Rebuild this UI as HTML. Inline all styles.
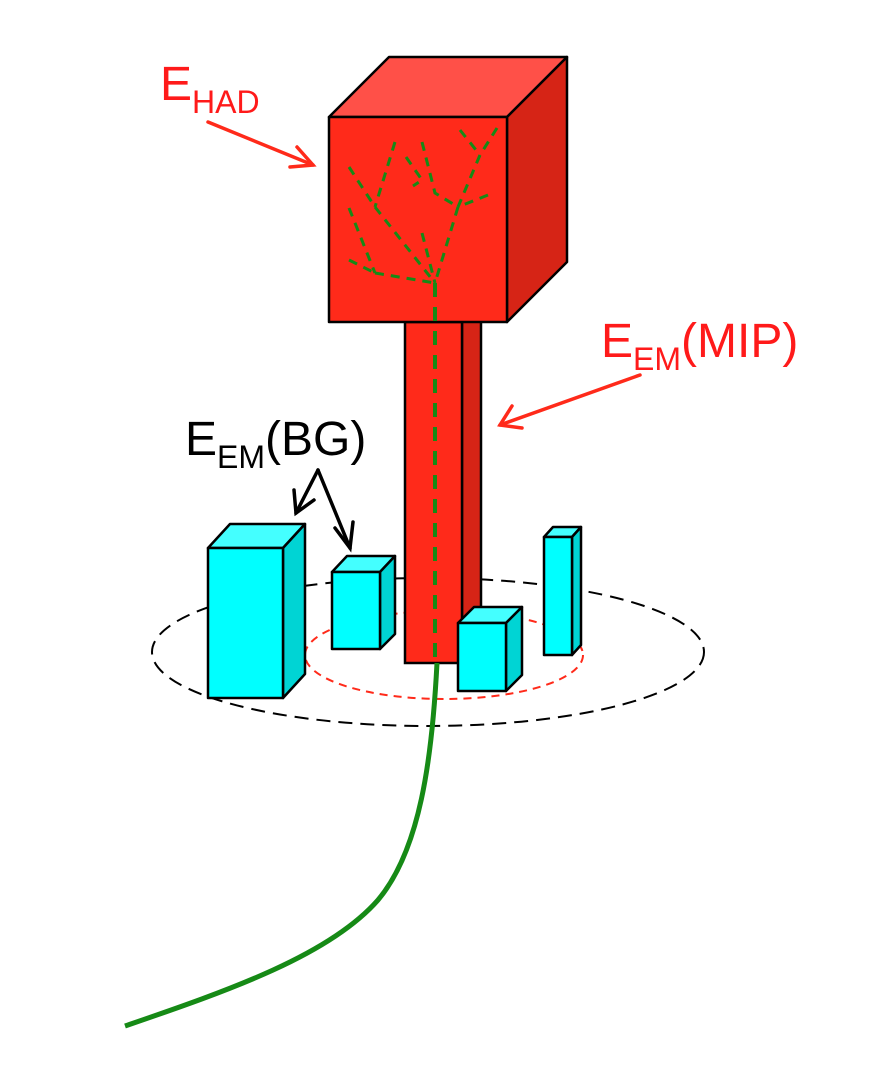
<!DOCTYPE html>
<html><head><meta charset="utf-8"><style>
html,body{margin:0;padding:0;background:#fff;}
svg{display:block;}
text{font-family:"Liberation Sans","DejaVu Sans",sans-serif;}
</style></head><body>
<svg width="870" height="1074" viewBox="0 0 870 1074" xmlns="http://www.w3.org/2000/svg">
<!-- black isolation ellipse -->
<ellipse cx="428" cy="652" rx="276" ry="74" fill="none" stroke="#000" stroke-width="2" stroke-dasharray="14,8"/>
<ellipse cx="444" cy="655" rx="139" ry="44" fill="none" stroke="#ff2a1a" stroke-width="2" stroke-dasharray="8,6"/>

<!-- column -->
<g stroke="#000" stroke-width="2.5">
<polygon points="462,322 481,310 481,645 462,663" fill="#d62416"/>
<rect x="405" y="322" width="57" height="341" fill="#ff2a1a"/>
</g>

<!-- cube -->
<g stroke="#000" stroke-width="2.5" stroke-linejoin="round">
<polygon points="329,117 389,57 567,57 507,117" fill="#ff5048"/>
<polygon points="507,117 567,57 567,262 507,322" fill="#d62416"/>
<rect x="329" y="117" width="178" height="205" fill="#ff2a1a"/>
</g>

<!-- shower tree -->
<g stroke="#168a16" stroke-width="3" stroke-dasharray="9,7" fill="none">
<path d="M395,142 L375,207"/>
<path d="M349,167 L375,207"/>
<path d="M375,207 L435,283"/>
<path d="M349,208 L375,273"/>
<path d="M349,260 L375,273"/>
<path d="M375,273 L435,283"/>
<path d="M422,233 L435,283"/>
<path d="M458,207 L435,283"/>
<path d="M422,142 L435,193 L458,207"/>
<path d="M406,157 L422,180 L413,186"/>
<path d="M488,195 L458,207"/>
<path d="M480,155 L458,207"/>
<path d="M460,130 L480,155"/>
<path d="M497,128 L480,155"/>
</g>
<path d="M435,283 L435,663" stroke="#168a16" stroke-width="4" stroke-dasharray="14,10" fill="none"/>
<path d="M437,663 C432,760 420,850 378,900 C330,955 230,990 125,1026" stroke="#168a16" stroke-width="5" fill="none"/>

<!-- cyan boxes -->
<g stroke="#000" stroke-width="2.5" stroke-linejoin="round">
<g>
<polygon points="208,548 230,524 305,524 283,548" fill="#44ffff"/>
<polygon points="283,548 305,524 305,674 283,698" fill="#00d4d4"/>
<rect x="208" y="548" width="75" height="150" fill="#00ffff"/>
</g>
<g>
<polygon points="332,572 347,556 395,556 380,572" fill="#44ffff"/>
<polygon points="380,572 395,556 395,634 380,649" fill="#00d4d4"/>
<rect x="332" y="572" width="48" height="77" fill="#00ffff"/>
</g>
<g>
<polygon points="458,623 474,607 522,607 506,623" fill="#44ffff"/>
<polygon points="506,623 522,607 522,675 506,691" fill="#00d4d4"/>
<rect x="458" y="623" width="48" height="68" fill="#00ffff"/>
</g>
<g>
<polygon points="544,537 553,527 581,527 572,537" fill="#44ffff"/>
<polygon points="572,537 581,527 581,645 572,655" fill="#00d4d4"/>
<rect x="544" y="537" width="28" height="118" fill="#00ffff"/>
</g>
</g>

<!-- labels -->
<text x="160" y="100" font-size="48" fill="#ff1a1a">E<tspan font-size="32" dy="13">HAD</tspan></text>
<text x="601" y="357" font-size="48" fill="#ff1a1a">E<tspan font-size="32" dy="13">EM</tspan><tspan font-size="48" dy="-13">(MIP)</tspan></text>
<text x="185" y="455" font-size="48" fill="#000">E<tspan font-size="32" dy="13">EM</tspan><tspan font-size="48" dy="-13">(BG)</tspan></text>

<!-- arrows -->
<g stroke="#ff2a1a" stroke-width="3.5" fill="none" stroke-linecap="round">
<path d="M208,122 L313,165"/><path d="M297,147 L313,165 L290,167"/>
</g>
<g stroke="#ff2a1a" stroke-width="3.5" fill="none" stroke-linecap="round">
<path d="M640,375 L500,425"/><path d="M512,406 L500,425 L522,428"/>
</g>
<g stroke="#000" stroke-width="3.5" fill="none" stroke-linecap="round">
<path d="M318,470 L296,513"/><path d="M294,490 L296,513 L314,500"/>
<path d="M318,470 L350,548"/><path d="M335,528 L350,548 L353,522"/>
</g>
</svg>
</body></html>
